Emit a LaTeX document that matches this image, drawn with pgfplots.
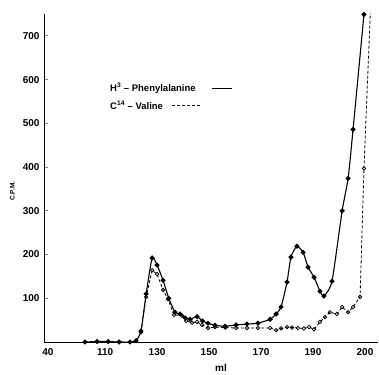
\documentclass[border=0pt]{standalone}
\usepackage{fontspec}
\setmainfont{Liberation Sans}
\usepackage{pgfplots}
\pgfplotsset{compat=1.18}
\begin{document}
\begin{tikzpicture}
\begin{axis}[
  scale only axis, width=334pt, height=328pt,
  xmin=86.5, xmax=215, ymin=0, ymax=750,
  axis lines=left, axis line style={-, line width=0.9pt},
  xtick={88,110,130,150,170,190,210},
  xticklabels={40,110,130,150,170,190,200},
  ytick={100,200,300,400,500,600,700},
  x tick style={draw=none},
  y tick style={line width=0.8pt},
  tick align=inside, major tick length=4pt,
  tick label style={font=\fontsize{10}{11}\selectfont\bfseries},
  /pgf/number format/assume math mode=true,
  xticklabel style={yshift=-3pt},
  yticklabel style={xshift=-1pt},
  xlabel={ml}, xlabel style={font=\fontsize{10}{11}\selectfont\bfseries, at={(axis description cs:0.53,0)}, anchor=center, yshift=-26pt},
  ylabel={C.P.M.}, ylabel style={font=\fontsize{6.5}{7}\selectfont\bfseries, at={(axis description cs:-0.095,0.46)}, anchor=center},
  clip=true,
]
\addplot[black, line width=1.1pt, mark=*, mark size=1.9pt, smooth, tension=0.35] coordinates {
(102.3,0)(106.9,1)(111.2,1)(115.4,0)(119.6,0)(121.9,3)(123.8,25)(125.8,110)(128.1,192)(130,176)(132.3,141)(134.5,100)(136.9,68)(138.8,64)(140.8,55)(142.7,52)(145.4,58)(147.5,48)(149.6,43)(152.3,38)(156.2,36)(160.4,39)(164.6,41)(168.8,43)(173.5,52)(175.8,64)(177.7,80)(180,137)(181.5,194)(183.8,219)(186.2,205)(188.1,171)(190.4,148)(192.7,116)(194.2,105)(197.3,139)(201.2,300)(203.5,374)(205.4,486)(209.6,749)
};
\addplot[black, line width=0.8pt, dashed, dash pattern=on 3pt off 2pt, mark=o, mark size=1.8pt, mark options={solid, fill=white, line width=0.7pt}] coordinates {
(123.8,22)(125.8,103)(128.1,164)(130,155)(132.3,119)(134.2,98)(136.5,62)(139.6,60)(141.2,48)(143.5,44)(145.4,46)(147.3,39)(149.6,32)(152.3,34)(156.2,33)(160.4,32)(164.6,32)(168.8,32)(173.5,32)(175.8,27)(177.7,31)(180,34)(181.9,33)(184.2,32)(186.5,31)(188.5,34)(190.4,29)(192.7,46)(194.6,57)(196.5,68)(199.2,64)(201.2,80)(203.5,68)(205.4,80)(208.1,103)(209.6,397)(212.5,820)
};
\node[anchor=west, font=\fontsize{9.5}{10}\selectfont\bfseries, inner sep=0pt] at (axis cs:111.9,580) {H$^{\mathbf{3}}$ -- Phenylalanine};
\draw[line width=0.8pt] (axis cs:151.2,580) -- (axis cs:158.8,580);
\node[anchor=west, font=\fontsize{9.5}{10}\selectfont\bfseries, inner sep=0pt] at (axis cs:111.9,541) {C$^{\mathbf{14}}$ -- Valine};
\draw[line width=0.8pt, dash pattern=on 3pt off 2pt] (axis cs:135.8,541) -- (axis cs:146.5,541);
\end{axis}
\path (current axis.south west) ++(-44pt,-32pt) coordinate (bbl);
\path (current axis.north east) ++(1pt,14pt) coordinate (bbr);
\useasboundingbox (bbl) rectangle (bbr);
\end{tikzpicture}
\end{document}
